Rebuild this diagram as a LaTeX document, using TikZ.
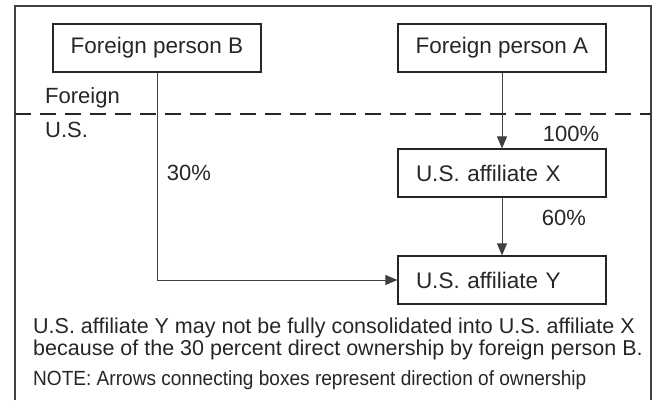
\documentclass[tikz,border=0pt]{standalone}
\usepackage{fontspec}
\setmainfont{Liberation Sans}
\newfontfamily\condsans[FakeStretch=0.93]{Liberation Sans}
\usetikzlibrary{arrows.meta}
\begin{document}
\begin{tikzpicture}[x=1pt,y=-1pt,
  txt/.style={font=\fontsize{22}{24}\selectfont, text=black!85, inner sep=0pt},
  notetxt/.style={font=\fontsize{21.5}{24}\selectfont, text=black!85, inner sep=0pt, anchor=west},
  ownbox/.style={draw=black!85, line width=1.2pt, minimum width=208pt, minimum height=48pt, font=\fontsize{22.5}{24}\selectfont, text=black!85, inner sep=0pt, anchor=center},
  leftbox/.style={ownbox, align=left, text width=172pt, inner xsep=0pt},
  conn/.style={draw=black!75, line width=1pt},
  tip/.style={-{Triangle[length=12pt,width=10pt]}}
]
\useasboundingbox (0,0) rectangle (654,400);
\draw[black!75, line width=1.5pt] (15,400) -- (15,6) -- (651,6) -- (651,400);
\node[ownbox] (B) at (157,48) {Foreign person B};
\node[ownbox] (A) at (502,48) {Foreign person A};
\node[leftbox] (X) at (502,173) {U.S. affiliate X};
\node[leftbox] (Y) at (502,280) {U.S. affiliate Y};
\coordinate (L) at (15,114);
\coordinate (R) at (651,114);
\draw[black!85, line width=2pt, dash pattern=on 16pt off 9pt] (L) -- (R);
\node[txt, anchor=west] (fo) at (45,98) {Foreign};
\node[txt, anchor=west] (us) at (45,130) {U.S.};
\coordinate (corner) at (B.south |- Y.west);
\draw[conn, tip] (B.south) -- (corner) -- (Y.west);
\draw[conn, tip] (A.south) -- (X.north);
\draw[conn, tip] (X.south) -- (Y.north);
\node[txt] (p100) at (571,134) {100\%};
\node[txt] (p60) at (564,218) {60\%};
\node[txt] (p30) at (189,173) {30\%};
\node[notetxt] (l1) at (33,328) {U.S. affiliate Y may not be fully consolidated into U.S. affiliate X};
\node[notetxt] (l2) at (33,350) {because of the 30 percent direct ownership by foreign person B.};
\node[notetxt, font=\condsans\fontsize{20.5}{22}\selectfont] (l3) at (33,380) {NOTE: Arrows connecting boxes represent direction of ownership};
\end{tikzpicture}
\end{document}
